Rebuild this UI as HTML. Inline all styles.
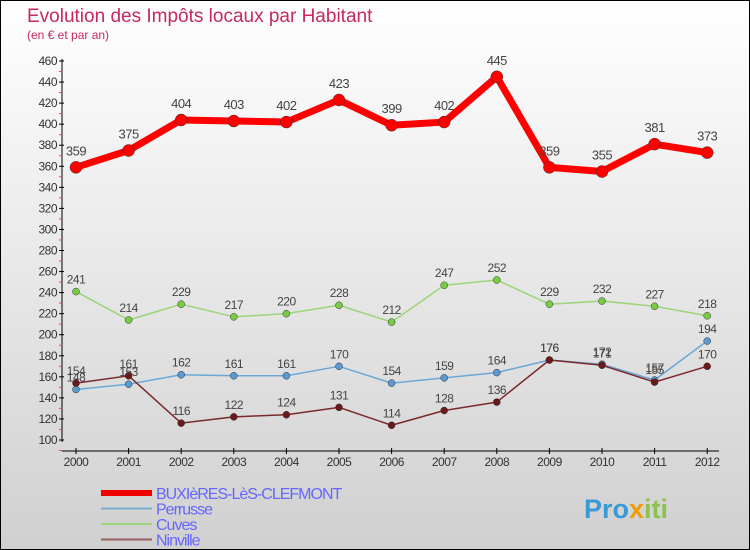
<!DOCTYPE html>
<html><head><meta charset="utf-8"><style>
body{margin:0}
#c{width:748px;height:548px;border:1px solid #000;background:linear-gradient(#fff,#d0d0d0);position:relative;overflow:hidden;font-family:"Liberation Sans",sans-serif}
</style></head><body>
<div id="c">
<svg id="s" width="748" height="548"></svg>
</div>
<script>
const years=[2000,2001,2002,2003,2004,2005,2006,2007,2008,2009,2010,2011,2012];
const buxieres=[359,375,404,403,402,423,399,402,445,359,355,381,373];
const perrusse=[148,153,162,161,161,170,154,159,164,176,172,157,194];
const cuves=[241,214,229,217,220,228,212,247,252,229,232,227,218];
const ninville=[154,161,116,122,124,131,114,128,136,176,171,155,170];
const yTicks=[100,120,140,160,180,200,220,240,260,280,300,320,340,360,380,400,420,440,460];
const NS="http://www.w3.org/2000/svg";
const s=document.getElementById('s');
function X(i){return 75+i*52.6;}
function Y(v){return 439-(v-100)*(379/360);}
function el(t,a,p){const e=document.createElementNS(NS,t);for(const k in a)e.setAttribute(k,a[k]);(p||s).appendChild(e);return e;}
function tx(x,y,str,a){const e=el('text',Object.assign({x:x,y:y},a));e.textContent=str;return e;}
let t=tx(26,21,'Evolution des Impôts locaux par Habitant',{fill:'#c8285a','font-size':19});

t=tx(26,38,'(en € et par an)',{fill:'#c8285a','font-size':12});

// axes
let a=el('line',{x1:61,y1:58,x2:61,y2:441,stroke:'#000'});

a=el('line',{x1:61,y1:450,x2:718,y2:450,stroke:'#000'});

yTicks.forEach(v=>{const y=Y(v);
 el('line',{x1:58,y1:y,x2:63,y2:y,stroke:'#000'});
 el('line',{x1:58,y1:y+10.5,x2:61,y2:y+10.5,stroke:'#f44'});
 const l=tx(56,y+4,v,{fill:'#333','font-size':12,'text-anchor':'end','letter-spacing':'-0.5'});
 });
years.forEach((yr,i)=>{const x=X(i);
 el('line',{x1:x,y1:447,x2:x,y2:453,stroke:'#000'});
 const l=tx(x,465,yr,{fill:'#333','font-size':12,'text-anchor':'middle','letter-spacing':'-0.5'});
 });
function series(name,data,color,w,r,dot,lab,lc,fs,dy){
 const g=el('g',{});
 el('polyline',{points:data.map((v,i)=>X(i)+','+Y(v)).join(' '),fill:'none',stroke:color,'stroke-width':w,'stroke-linejoin':'round'},g);
 data.forEach((v,i)=>{const c=el('circle',{cx:X(i),cy:Y(v),r:r,fill:dot,stroke:'#333','stroke-width':0.5},g);
  
  if(lab){const l=tx(X(i),Y(v)+dy,v,{fill:lc,'font-size':fs,'text-anchor':'middle','letter-spacing':'-0.5'},g);
  }});
}
series('cuves',cuves,'#9cd47a',1.5,3.5,'#7c4',true,'#444',12,-8);
series('perrusse',perrusse,'#6aa8d8',1.5,3.5,'#5a9ad0',true,'#444',12,-8);
series('ninville',ninville,'#7a2a2a',1.5,3.5,'#6a1a1a',true,'#444',12,-8);
series('buxieres',buxieres,'#f00',7,6,'#f00',true,'#444',13,-12);
// legend
const leg=[['BUXIèRES-LèS-CLEFMONT','#e00',6],['Perrusse','#7aaed0',2],['Cuves','#9cd47a',2],['Ninville','#9a6060',2]];
leg.forEach((L,i)=>{const y=492+i*15.5;const g=el('g',{});
 
 el('line',{x1:100,y1:y,x2:151,y2:y,stroke:L[1],'stroke-width':L[2]},g);
 tx(155,y+6,L[0],{fill:'#66f','font-size':16,'letter-spacing':'-1'},g);});
const lg=tx(583,517,'',{'font-size':27,'font-weight':'bold'});

[['Pro','#3a9ad8'],['x','#f29a00'],['iti','#8bc34a']].forEach(p=>{const ts=el('tspan',{fill:p[1]},lg);ts.textContent=p[0];});
</script>
</body></html>
